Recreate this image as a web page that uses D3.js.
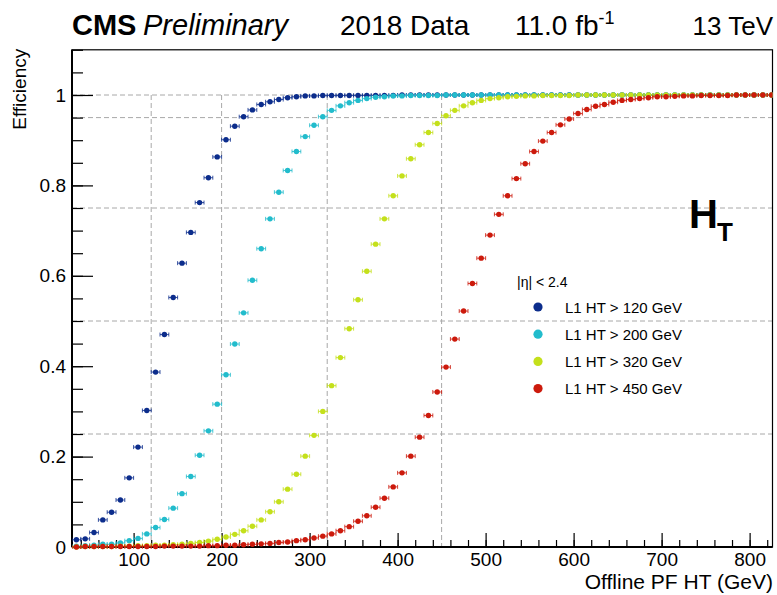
<!DOCTYPE html>
<html>
<head>
<meta charset="utf-8">
<script src="https://cdn.jsdelivr.net/npm/d3@7"></script>
<style>
  body { margin: 0; background: #fff; }
  svg { display: block; font-family: "Liberation Sans", Arial, Helvetica, sans-serif; }
</style>
</head>
<body>
<svg id="graph" width="777" height="595"></svg>
<script>
// bin centres (GeV), 10 GeV bins
var htBins = [35, 45, 55, 65, 75, 85, 95, 105, 115, 125, 135, 145, 155, 165, 175, 185, 195, 205, 215, 225,
  235, 245, 255, 265, 275, 285, 295, 305, 315, 325, 335, 345, 355, 365, 375, 385, 395, 405, 415, 425,
  435, 445, 455, 465, 475, 485, 495, 505, 515, 525, 535, 545, 555, 565, 575, 585, 595, 605, 615, 625,
  635, 645, 655, 665, 675, 685, 695, 705, 715, 725, 735, 745, 755, 765, 775, 785, 795, 805, 815, 825];

var effHT120 = [0.016, 0.018, 0.032, 0.060, 0.077, 0.104, 0.153, 0.221, 0.302, 0.387, 0.470, 0.552, 0.628, 0.696, 0.762, 0.817, 0.863, 0.901, 0.931, 0.952,
  0.967, 0.979, 0.985, 0.990, 0.994, 0.996, 0.998, 0.998, 0.999, 0.999, 0.999, 0.999, 0.999, 0.999, 0.999, 0.999, 0.999, 1.000, 1.000, 1.000,
  1.000, 1.000, 1.000, 1.000, 1.000, 1.000, 1.000, 1.000, 1.000, 1.000, 1.000, 1.000, 1.000, 1.000, 1.000, 1.000, 1.000, 1.000, 1.000, 1.000,
  1.000, 1.000, 1.000, 1.000, 1.000, 1.000, 1.000, 1.000, 1.000, 1.000, 1.000, 1.000, 1.000, 1.000, 1.000, 1.000, 1.000, 1.000, 1.000, 1.000];

var effHT200 = [0.002, 0.003, 0.004, 0.006, 0.006, 0.009, 0.014, 0.019, 0.029, 0.043, 0.061, 0.086, 0.118, 0.156, 0.203, 0.257, 0.316, 0.381, 0.449, 0.518,
  0.590, 0.660, 0.726, 0.785, 0.833, 0.875, 0.908, 0.933, 0.952, 0.966, 0.976, 0.983, 0.988, 0.992, 0.995, 0.996, 0.998, 0.998, 0.999, 0.999,
  0.999, 0.999, 1.000, 1.000, 1.000, 1.000, 1.000, 1.000, 1.000, 1.000, 1.000, 1.000, 1.000, 1.000, 1.000, 1.000, 1.000, 1.000, 1.000, 1.000,
  1.000, 1.000, 1.000, 1.000, 1.000, 1.000, 1.000, 1.000, 1.000, 1.000, 1.000, 1.000, 1.000, 1.000, 1.000, 1.000, 1.000, 1.000, 1.000, 1.000];

var effHT320 = [0.000, 0.001, 0.001, 0.001, 0.001, 0.002, 0.002, 0.003, 0.003, 0.004, 0.004, 0.005, 0.006, 0.008, 0.010, 0.013, 0.017, 0.022, 0.028, 0.036,
  0.046, 0.060, 0.078, 0.100, 0.128, 0.161, 0.201, 0.247, 0.300, 0.357, 0.419, 0.483, 0.547, 0.610, 0.670, 0.726, 0.777, 0.821, 0.859, 0.890,
  0.917, 0.937, 0.954, 0.966, 0.976, 0.983, 0.988, 0.992, 0.994, 0.996, 0.997, 0.998, 0.998, 0.999, 0.999, 0.999, 0.999, 1.000, 1.000, 1.000,
  1.000, 1.000, 1.000, 1.000, 1.000, 1.000, 1.000, 1.000, 1.000, 1.000, 1.000, 1.000, 1.000, 1.000, 1.000, 1.000, 1.000, 1.000, 1.000, 1.000];

var effHT450 = [0.000, 0.001, 0.001, 0.001, 0.001, 0.001, 0.001, 0.001, 0.001, 0.001, 0.002, 0.002, 0.002, 0.002, 0.002, 0.003, 0.003, 0.004, 0.004, 0.005,
  0.006, 0.007, 0.008, 0.010, 0.011, 0.014, 0.016, 0.020, 0.024, 0.029, 0.036, 0.045, 0.057, 0.069, 0.088, 0.108, 0.133, 0.164, 0.201, 0.243,
  0.291, 0.343, 0.398, 0.460, 0.522, 0.583, 0.639, 0.690, 0.736, 0.777, 0.815, 0.848, 0.875, 0.898, 0.917, 0.934, 0.947, 0.959, 0.968, 0.975,
  0.979, 0.984, 0.988, 0.990, 0.992, 0.994, 0.996, 0.996, 0.997, 0.998, 0.998, 0.999, 0.999, 0.999, 0.999, 1.000, 1.000, 1.000, 1.000, 1.000];

var seriesNames = ["L1 HT > 120 GeV", "L1 HT > 200 GeV", "L1 HT > 320 GeV", "L1 HT > 450 GeV"];
var thresholds = [120, 200, 320, 450];
var effLevels = [1, 0.95, 0.75, 0.5, 0.25];
var xTicks = [100, 200, 300, 400, 500, 600, 700, 800];
var xTickLabels = ["100", "200", "300", "400", "500", "600", "700", "800"];
var yTicks = [0, 0.2, 0.4, 0.6, 0.8, 1];
var yTickLabels = ["0", "0.2", "0.4", "0.6", "0.8", "1"];

var colors = ["#0c2d8c", "#22bccc", "#c4e01b", "#cc1a0c"];

function makeChart()
{
  var svg = d3.select("#graph");
  var left = 72, right = 772.5, top = 49.8, bottom = 547;

  var scX = d3.scaleLinear().domain([30, 826]).range([left, right]);
  var scY = d3.scaleLinear().domain([0, 1.1]).range([bottom, top]);

  // header
  var head = svg.append("g").attr("font-size", 28).attr("fill", "#000");
  head.append("text").attr("x", 72).attr("y", 35).attr("font-weight", "bold").attr("font-size", 29).text("CMS");
  head.append("text").attr("x", 143).attr("y", 35).attr("font-style", "italic").attr("font-size", 29).text("Preliminary");
  head.append("text").attr("x", 340).attr("y", 35).text("2018 Data");
  var lumi = head.append("text").attr("x", 515).attr("y", 35);
  lumi.append("tspan").text("11.0 fb");
  lumi.append("tspan").attr("font-size", 18).attr("dy", -11).text("-1");
  head.append("text").attr("x", 773).attr("y", 35).attr("text-anchor", "end").attr("font-size", 26).text("13 TeV");

  // dashed reference lines
  var grid = svg.append("g").attr("stroke", "#a8a8a8").attr("stroke-width", 1).attr("stroke-dasharray", "5,3");
  grid.selectAll("line.h").data(effLevels).enter().append("line")
    .attr("x1", left).attr("x2", right)
    .attr("y1", d => scY(d)).attr("y2", d => scY(d));
  grid.selectAll("line.v").data(thresholds).enter().append("line")
    .attr("x1", d => scX(d)).attr("x2", d => scX(d))
    .attr("y1", scY(1)).attr("y2", scY(0));

  // axes, ticks pointing inside the frame
  var xMinor = d3.range(40, 826, 20);
  var yMinor = d3.range(0, 1.1001, 0.05);

  var gx = svg.append("g").attr("transform", `translate(0,${bottom})`);
  gx.call(d3.axisBottom(scX).tickValues(xMinor).tickSize(-7).tickFormat(""));
  gx.call(g => g.select(".domain").remove());
  var gx2 = svg.append("g").attr("transform", `translate(0,${bottom})`);
  gx2.call(d3.axisBottom(scX).tickValues(xTicks).tickSize(-14)
    .tickFormat((d, i) => xTickLabels[i]));
  gx2.call(g => g.select(".domain").remove());
  gx2.selectAll("text").attr("font-size", 19).attr("dy", "0.71em").attr("y", 6);

  var gy = svg.append("g").attr("transform", `translate(${left},0)`);
  gy.call(d3.axisLeft(scY).tickValues(yMinor).tickSize(-11).tickFormat(""));
  gy.call(g => g.select(".domain").remove());
  var gy2 = svg.append("g").attr("transform", `translate(${left},0)`);
  gy2.call(d3.axisLeft(scY).tickValues(yTicks).tickSize(-21).tickPadding(6)
    .tickFormat((d, i) => yTickLabels[i]));
  gy2.call(g => g.select(".domain").remove());
  gy2.selectAll("text").attr("font-size", 19);

  svg.selectAll(".tick line").attr("stroke", "#000").attr("stroke-width", 1.2);
  svg.selectAll(".tick text").attr("fill", "#000").attr("font-family", "Liberation Sans, Arial, sans-serif");

  // frame
  svg.append("rect").attr("x", left).attr("y", top).attr("width", right - left).attr("height", bottom - top)
    .attr("fill", "none").attr("stroke", "#000").attr("stroke-width", 1.2);
  svg.append("line").attr("x1", left).attr("x2", right).attr("y1", bottom).attr("y2", bottom)
    .attr("stroke", "#000").attr("stroke-width", 2.2);
  svg.append("line").attr("x1", left).attr("x2", left).attr("y1", top).attr("y2", bottom)
    .attr("stroke", "#000").attr("stroke-width", 2);

  // axis titles
  svg.append("text").attr("x", 773).attr("y", 589).attr("text-anchor", "end")
    .attr("font-size", 21).text("Offline PF HT (GeV)");
  svg.append("text").attr("transform", `translate(26,${top - 1}) rotate(-90)`).attr("text-anchor", "end")
    .attr("font-size", 19).text("Efficiency");

  // data
  svg.append("clipPath").attr("id", "frameClip").append("rect")
    .attr("x", left).attr("y", top - 5).attr("width", right - left).attr("height", bottom - top + 10);

  var allSeries = [effHT120, effHT200, effHT320, effHT450];
  var plot = svg.append("g").attr("clip-path", "url(#frameClip)");

  allSeries.forEach(function(vals, s) {
    var pts = htBins.map((x, i) => [x, vals[i]]);
    var g = plot.append("g").attr("stroke", colors[s]).attr("fill", colors[s]);
    g.selectAll("line.err").data(pts).enter().append("line")
      .attr("x1", d => scX(d[0] - 5)).attr("x2", d => scX(d[0] + 5))
      .attr("y1", d => scY(d[1])).attr("y2", d => scY(d[1]))
      .attr("stroke-width", 1).attr("stroke-opacity", 0.8);
    g.selectAll("line.capl").data(pts).enter().append("line")
      .attr("x1", d => scX(d[0] - 5)).attr("x2", d => scX(d[0] - 5))
      .attr("y1", d => scY(d[1]) - 2).attr("y2", d => scY(d[1]) + 2)
      .attr("stroke-width", 1).attr("stroke-opacity", 0.8);
    g.selectAll("line.capr").data(pts).enter().append("line")
      .attr("x1", d => scX(d[0] + 5)).attr("x2", d => scX(d[0] + 5))
      .attr("y1", d => scY(d[1]) - 2).attr("y2", d => scY(d[1]) + 2)
      .attr("stroke-width", 1).attr("stroke-opacity", 0.8);
    g.selectAll("circle").data(pts).enter().append("circle")
      .attr("cx", d => scX(d[0])).attr("cy", d => scY(d[1])).attr("r", 2.7)
      .attr("stroke", "none");
  });

  // legend
  var leg = svg.append("g");
  leg.append("text").attr("x", 517).attr("y", 287).attr("font-size", 14).text("|\u03b7| < 2.4");
  var rows = leg.selectAll("g.row").data(seriesNames).enter().append("g")
    .attr("transform", (d, i) => `translate(538,${307 + i * 27.2})`);
  rows.append("circle").attr("r", 4.6).attr("fill", (d, i) => colors[i]);
  rows.append("text").attr("x", 27).attr("y", 5.5).attr("font-size", 15).text(d => d);

  // H_T label
  var ht = svg.append("text").attr("x", 689).attr("y", 228).attr("font-weight", "bold").attr("font-size", 40);
  ht.append("tspan").text("H");
  ht.append("tspan").attr("font-size", 26).attr("x", 717).attr("y", 241).text("T");
}

makeChart();
</script>
</body>
</html>
